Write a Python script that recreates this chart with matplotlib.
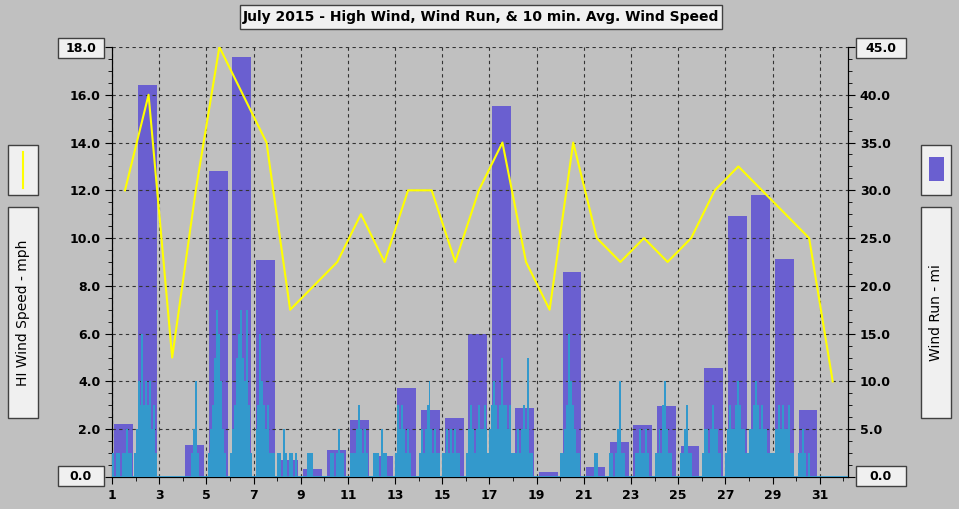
import numpy as np
import matplotlib.pyplot as plt
from matplotlib.patches import Rectangle

days = np.arange(1, 32)
# daily wind run (mi), right axis
wind_run = [5.5, 41.0, 0.0, 3.3, 32.0, 44.0, 22.7, 1.8, 0.8, 2.8, 6.0, 2.2, 9.3, 7.0, 6.2,
            15.0, 38.8, 7.2, 0.5, 21.5, 1.0, 3.7, 5.4, 7.4, 3.2, 11.4, 27.3, 29.5, 22.8, 7.0, 0.0]
# daily high wind (mph), left axis
hi_wind = [12, 16, 5, 12, 18, 16, 14, 7, 8, 9, 11, 9, 12, 12, 9,
           12, 14, 9, 7, 14, 10, 9, 10, 9, 10, 12, 13, 12, 11, 10, 4]
# 10 min avg wind speed, sampled every 2 hours (12 per day)
avg_wind = [
    [1, 0, 1, 1, 0, 1, 1, 2, 1, 1, 0, 1],
    [2, 4, 3, 6, 3, 4, 3, 4, 2, 3, 1, 0],
    [0, 0, 0, 0, 0, 0, 0, 0, 0, 0, 0, 0],
    [0, 0, 0, 0, 1, 2, 4, 1, 0, 0, 0, 0],
    [0, 1, 2, 3, 5, 7, 6, 4, 2, 1, 0, 0],
    [1, 2, 3, 5, 6, 7, 5, 4, 7, 3, 1, 0],
    [0, 2, 3, 6, 4, 3, 2, 3, 1, 1, 1, 0],
    [1, 1, 0, 2, 1, 0, 1, 1, 0, 1, 0, 0],
    [0, 0, 0, 1, 1, 1, 0, 0, 0, 0, 0, 0],
    [0, 0, 0, 1, 1, 0, 1, 2, 1, 1, 0, 0],
    [0, 1, 1, 1, 2, 3, 2, 1, 2, 1, 0, 0],
    [0, 1, 1, 1, 0, 2, 1, 1, 0, 0, 0, 0],
    [1, 3, 2, 3, 2, 1, 2, 1, 0, 0, 0, 0],
    [1, 2, 1, 2, 3, 4, 2, 1, 2, 1, 1, 0],
    [1, 1, 2, 1, 2, 1, 2, 1, 1, 0, 0, 0],
    [1, 2, 3, 2, 1, 2, 3, 2, 2, 3, 2, 1],
    [2, 3, 4, 3, 2, 3, 5, 3, 3, 2, 3, 1],
    [1, 1, 2, 1, 2, 3, 2, 5, 1, 1, 0, 0],
    [0, 0, 0, 0, 0, 0, 0, 0, 0, 0, 0, 0],
    [1, 1, 2, 3, 6, 4, 3, 2, 1, 1, 0, 0],
    [0, 0, 0, 0, 0, 1, 1, 0, 0, 0, 0, 0],
    [0, 1, 1, 0, 1, 2, 4, 1, 1, 0, 0, 0],
    [0, 0, 1, 1, 2, 1, 1, 2, 1, 0, 0, 0],
    [1, 1, 2, 1, 3, 4, 2, 1, 1, 0, 0, 0],
    [0, 1, 1, 2, 3, 1, 1, 0, 0, 0, 0, 0],
    [1, 2, 2, 1, 2, 3, 2, 2, 1, 1, 0, 0],
    [1, 2, 3, 2, 2, 3, 4, 3, 2, 2, 1, 1],
    [2, 2, 3, 4, 3, 2, 3, 2, 2, 1, 1, 1],
    [1, 2, 2, 3, 2, 3, 2, 2, 3, 1, 1, 0],
    [0, 1, 1, 2, 1, 0, 1, 0, 0, 0, 0, 0],
    [0, 0, 0, 0, 0, 0, 0, 0, 0, 0, 0, 0],
]

bg = '#c0c0c0'
fig = plt.figure(figsize=(9.59, 5.09), dpi=100, facecolor=bg)
ax = fig.add_axes([0.1168, 0.0629, 0.7675, 0.8448], facecolor=bg)
ax2 = ax.twinx()
ax2.set_zorder(0)
ax.set_zorder(1)
ax.patch.set_visible(False)

# wind run bars
ax2.bar(days + 0.5, wind_run, width=0.8, color='#6a5fd0', zorder=2)
ax2.set_ylim(0, 45)

# 10 min avg bars
for i, vals in enumerate(avg_wind):
    n = len(vals)
    x = days[i] + (np.arange(n) + 0.5) / n
    ax.bar(x, vals, width=1.0 / n, color='#3399cc', zorder=3)
ax.plot([1, 32.2], [0, 0], color='#3399cc', lw=2, zorder=3)

# high wind line
ax.plot(days + 0.55, hi_wind, color='yellow', lw=1.5, zorder=4)

ax.set_xlim(1, 32.2)
ax.set_ylim(0, 18)
ax.set_xticks(range(1, 32, 2))
ax.set_xticks(range(1, 33), minor=True)
ax.set_yticks(np.arange(0, 19, 2))
ax.set_yticks(np.arange(0, 18.1, 0.5), minor=True)
ax.set_yticklabels(['' if v in (0, 18) else f'{v:.1f}' for v in np.arange(0, 19, 2)], fontsize=9, fontweight='bold')
ax.set_xticklabels([str(d) for d in range(1, 32, 2)], fontsize=9, fontweight='bold')
ax2.set_yticks(np.arange(0, 46, 5))
ax2.set_yticks(np.arange(0, 45.1, 1.25), minor=True)
ax2.set_yticklabels(['' if v in (0, 45) else f'{v:.1f}' for v in np.arange(0, 46, 5)], fontsize=9, fontweight='bold')
ax.tick_params(direction='out', length=5, which='both')
ax.tick_params(which='minor', length=3)
ax2.tick_params(direction='out', length=5, which='both')
ax2.tick_params(which='minor', length=3)
ax.grid(True, color='#333333', linestyle=(0, (3, 3)), lw=0.8)
for a in (ax, ax2):
    for s in a.spines.values():
        s.set_visible(False)
    a.spines['left'].set_visible(True)
    a.spines['right'].set_visible(True)
    a.spines['bottom'].set_visible(True)

def box(x, y, w, h, text, rot=0, fs=9, bold=True):
    fig.patches.append(Rectangle((x / 959, 1 - (y + h) / 509), w / 959, h / 509,
                                 transform=fig.transFigure, facecolor='#f0f0f0',
                                 edgecolor='#404040', lw=1))
    fig.text((x + w / 2) / 959, 1 - (y + h / 2) / 509, text, rotation=rot,
             ha='center', va='center', fontsize=fs, fontweight='bold' if bold else 'normal')

box(240, 5, 482, 24, 'July 2015 - High Wind, Wind Run, & 10 min. Avg. Wind Speed', fs=10)
box(8, 207, 30, 211, 'HI Wind Speed - mph', rot=90, fs=10, bold=False)
box(921, 207, 30, 211, 'Wind Run - mi', rot=90, fs=10, bold=False)
box(58, 38, 46, 20, '18.0')
box(58, 466, 46, 20, '0.0')
box(856, 38, 50, 20, '45.0')
box(856, 466, 50, 20, '0.0')
box(8, 145, 30, 50, '')
box(921, 145, 30, 50, '')
fig.add_artist(plt.Line2D([23 / 959, 23 / 959], [1 - 188 / 509, 1 - 152 / 509], color='yellow', lw=1.5))
fig.patches.append(Rectangle((929 / 959, 1 - 181 / 509), 15 / 959, 24 / 509,
                             transform=fig.transFigure, facecolor='#6a5fd0'))

fig.savefig('out.png', dpi=100, facecolor=bg)
